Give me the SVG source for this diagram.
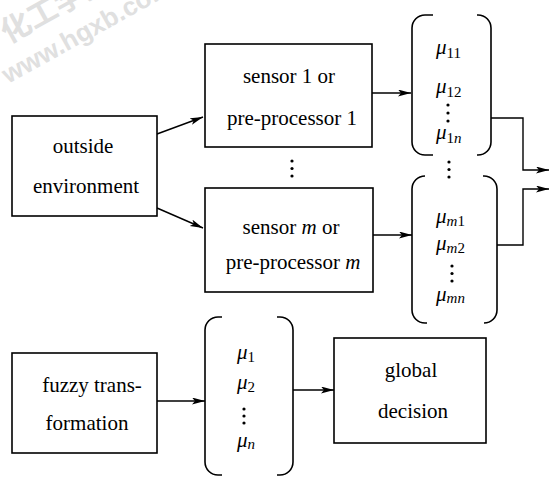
<svg xmlns="http://www.w3.org/2000/svg" width="552" height="477" viewBox="0 0 552 477">
<style>
.box{fill:#fff;stroke:#000;stroke-width:1.6}
.br{fill:none;stroke:#000;stroke-width:1.6}
.ln{fill:none;stroke:#000;stroke-width:1.4}
.t{font-family:"Liberation Serif","Times New Roman",serif;font-size:21px;fill:#000;text-anchor:middle}
.mu{font-family:"Liberation Serif","Times New Roman",serif;font-size:21px;font-style:italic;fill:#000}
.sub{font-size:15px;font-style:normal}
.si{font-size:15px;font-style:italic}
.wm{font-family:"Liberation Sans",Arial,sans-serif;font-weight:bold;font-size:26px;fill:#e0e0e0}
.wmc{font-family:"Noto Sans CJK SC",sans-serif;font-weight:bold;font-size:30px;fill:#e0e0e0}
</style>
<defs>
<marker id="ah" markerUnits="userSpaceOnUse" markerWidth="14" markerHeight="8" refX="13" refY="3.5" orient="auto">
<path d="M0,0 L13,3.5 L0,7 L3,3.5 z" fill="#000"/>
</marker>
</defs>
<g id="watermark">
<text class="wmc" x="8" y="44" transform="rotate(-29 8 44)">化工学报</text>
<text class="wm" x="8" y="84" transform="rotate(-29 8 84)">www.hgxb.com.cn</text>
</g>
<g id="connectors">
<line class="ln" x1="157" y1="134" x2="203" y2="117" marker-end="url(#ah)"/>
<line class="ln" x1="157" y1="208" x2="203" y2="228" marker-end="url(#ah)"/>
<line class="ln" x1="372" y1="93" x2="411" y2="93" marker-end="url(#ah)"/>
<line class="ln" x1="373" y1="235" x2="412" y2="235" marker-end="url(#ah)"/>
<polyline class="ln" points="491,118 523,118 523,170 549,170" marker-end="url(#ah)"/>
<polyline class="ln" points="497,245 523,245 523,189 549,189" marker-end="url(#ah)"/>
<line class="ln" x1="157" y1="401" x2="205" y2="401" marker-end="url(#ah)"/>
<line class="ln" x1="293" y1="390" x2="334" y2="390" marker-end="url(#ah)"/>
<g fill="#000">
<circle cx="292" cy="161" r="1.6"/><circle cx="292" cy="168.5" r="1.6"/><circle cx="292" cy="176" r="1.6"/>
<circle cx="449" cy="162" r="1.6"/><circle cx="449" cy="169.5" r="1.6"/><circle cx="449" cy="177" r="1.6"/>
</g>
</g>
<g id="outside">
<rect class="box" x="12" y="116" width="145" height="100"/>
<text class="t" x="83" y="153">outside</text>
<text class="t" x="86" y="193">environment</text>
</g>
<g id="sensor1">
<rect class="box" x="205" y="44" width="167" height="103"/>
<text class="t" x="289" y="83">sensor 1 or</text>
<text class="t" x="292" y="125">pre-processor 1</text>
</g>
<g id="sensorm">
<rect class="box" x="205" y="188" width="168" height="104"/>
<text class="t" x="291" y="234">sensor <tspan font-style="italic">m</tspan> or</text>
<text class="t" x="293" y="269">pre-processor <tspan font-style="italic">m</tspan></text>
</g>
<g id="vector1">
<path class="br" d="M433,15 L425,15 A13,13 0 0 0 412,28 L412,142 A13,13 0 0 0 425,155 L433,155"/>
<path class="br" d="M477,15 L478,15 A13,13 0 0 1 491,28 L491,142 A13,13 0 0 1 478,155 L477,155"/>
<text class="mu" x="436" y="54">μ<tspan class="sub" dy="4">11</tspan></text>
<text class="mu" x="436" y="93">μ<tspan class="sub" dy="4">12</tspan></text>
<g fill="#000"><circle cx="448" cy="105" r="1.6"/><circle cx="448" cy="113" r="1.6"/><circle cx="448" cy="121" r="1.6"/></g>
<text class="mu" x="436" y="139">μ<tspan class="sub" dy="4">1</tspan><tspan class="si">n</tspan></text>
</g>
<g id="vectorm">
<path class="br" d="M425,176 A13,13 0 0 0 412,189 L412,310 A13,13 0 0 0 425,323 L427,323"/>
<path class="br" d="M483,176 L484,176 A13,13 0 0 1 497,189 L497,310 A13,13 0 0 1 484,323"/>
<text class="mu" x="436" y="223">μ<tspan class="si" dy="3">m</tspan><tspan class="sub">1</tspan></text>
<text class="mu" x="436" y="250">μ<tspan class="si" dy="3">m</tspan><tspan class="sub">2</tspan></text>
<g fill="#000"><circle cx="452" cy="266" r="1.6"/><circle cx="452" cy="273.5" r="1.6"/><circle cx="452" cy="281" r="1.6"/></g>
<text class="mu" x="436" y="301">μ<tspan class="si" dy="2">mn</tspan></text>
</g>
<g id="fuzzy">
<rect class="box" x="12" y="353" width="145" height="100"/>
<text class="t" x="92" y="392">fuzzy trans-</text>
<text class="t" x="87" y="430">formation</text>
</g>
<g id="vector">
<path class="br" d="M222,317 L218,317 A13,13 0 0 0 205,330 L205,462 A13,13 0 0 0 218,475 L222,475"/>
<path class="br" d="M277,317 L280,317 A13,13 0 0 1 293,330 L293,462 A13,13 0 0 1 280,475 L277,475"/>
<text class="mu" x="237" y="359">μ<tspan class="sub" dy="3">1</tspan></text>
<text class="mu" x="237" y="389">μ<tspan class="sub" dy="3">2</tspan></text>
<g fill="#000"><circle cx="244" cy="409" r="1.6"/><circle cx="244" cy="416" r="1.6"/><circle cx="244" cy="423" r="1.6"/></g>
<text class="mu" x="237" y="447">μ<tspan class="si" dy="2">n</tspan></text>
</g>
<g id="global">
<rect class="box" x="334" y="338" width="152" height="105"/>
<text class="t" x="411" y="377">global</text>
<text class="t" x="413" y="418">decision</text>
</g>
</svg>
